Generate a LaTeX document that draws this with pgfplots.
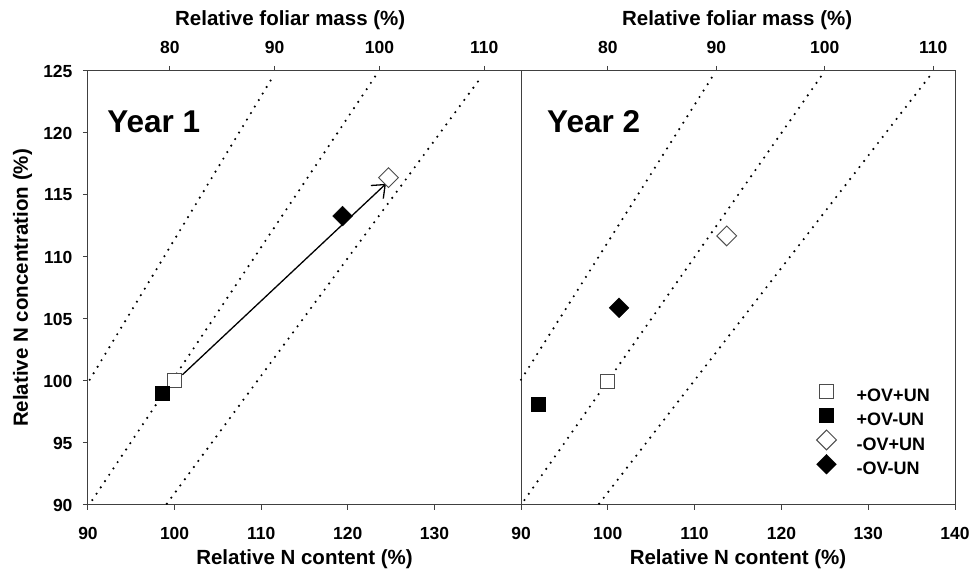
\documentclass[border=0pt]{standalone}
\usepackage{pgfplots}
\pgfplotsset{compat=1.18}
\usetikzlibrary{arrows.meta}
\usepackage{fontspec}
\setmainfont{Liberation Sans}

\newcommand{\tickfont}{\fontsize{17.5}{19}\selectfont\bfseries}

\pgfplotsset{
  panel/.style={
    scale only axis, height=434pt,
    xmin=90, xmax=140, ymin=90, ymax=125,
    axis line style={black!75, line width=1pt},
    tick style={black!75, line width=1pt},
    tick align=outside, major tick length=5pt,
    xtick pos=left, ytick pos=left,
    xticklabel={\tickfont\pgfmathprintnumber[assume math mode=true]{\tick}},
    yticklabel={\tickfont\pgfmathprintnumber[assume math mode=true]{\tick}},
    xticklabel style={yshift=-14pt},
    yticklabel style={xshift=-7pt},
    label style={font=\fontsize{20.5}{22}\selectfont\bfseries},
    xlabel style={at={(axis description cs:0.5,-0.125)}, anchor=center},
    clip=false,
  },
  toppanel/.style={
    scale only axis, height=434pt,
    ymin=0, ymax=1,
    axis x line*=top, axis y line=none,
    axis line style={black!75, line width=1pt},
    tick style={black!75, line width=1pt},
    tick align=outside, major tick length=5pt,
    xtick={80,90,100,110},
    xticklabel={\tickfont\pgfmathprintnumber[assume math mode=true]{\tick}},
    xticklabel style={yshift=9pt},
    label style={font=\fontsize{20.5}{22}\selectfont\bfseries},
    xlabel={Relative foliar mass (\%)},
  },
  iso/.style={black, line width=2.4pt, dash pattern=on 0pt off 7.6pt, line cap=round},
  openmk/.style={only marks, mark size=7pt, mark options={draw=black!70, fill=white, line width=1pt}},
  fillmk/.style={only marks, mark size=7pt, mark options={draw=black, fill=black}},
  sq/.style={mark=square*},
  dm/.style={mark=square*, every mark/.append style={rotate=45}},
}

\begin{document}
\begin{tikzpicture}
\path[use as bounding box] (0,0) rectangle (972pt,569pt);

% Year 1
\begin{axis}[panel, at={(88pt,64pt)}, width=433pt,
  xtick={90,100,110,120,130}, ytick={90,95,...,125},
  xlabel={Relative N content (\%)},
  ylabel={Relative N concentration (\%)},
  ylabel style={at={(axis description cs:-0.151,0.5)}, anchor=center},
]
\addplot[iso] coordinates {(90.2,100.1) (111.4,124.6)};
\addplot[iso] coordinates {(90.5,90.4) (123.2,124.6)};
\addplot[iso] coordinates {(99.1,90.1) (135.5,124.6)};
\addplot[black, line width=1.3pt, -{Straight Barb[length=11pt, width=18pt, line width=1.3pt]}]
  coordinates {(100.9,100.5) (124.4,115.9)};
\addplot[openmk, sq] coordinates {(100,100)};
\addplot[fillmk, sq] coordinates {(98.6,99.0)};
\addplot[openmk, dm] coordinates {(124.7,116.4)};
\addplot[fillmk, dm] coordinates {(119.4,113.3)};
\node[anchor=base west, inner sep=0pt, font=\fontsize{31.5}{34}\selectfont\bfseries]
  at (axis description cs:0.044,0.859) {Year 1};
\end{axis}
\begin{axis}[toppanel, at={(88pt,64pt)}, width=433pt, xmin=72.2, xmax=113.5,
  xlabel style={at={(axis description cs:0.467,1.1175)}, anchor=center}]
\end{axis}

% Year 2
\begin{axis}[panel, at={(521pt,64pt)}, width=434pt,
  xtick={90,100,110,120,130,140}, ytick=\empty,
  xlabel={Relative N content (\%)},
  legend style={at={(axis description cs:0.680,0.2765)}, anchor=north west,
    draw=none, fill=none, inner sep=0pt, row sep=0pt,
    font=\fontsize{18}{20}\selectfont\bfseries,
    nodes={inner sep=0pt, text height=16.3pt, text depth=8pt}},
  legend cell align=left,
  legend image code/.code={%
    \path (-10pt,6pt) (10pt,6pt);
    \draw[#1, overlay] plot coordinates {(0pt,6pt)};},
]
\addplot[iso, forget plot] coordinates {(90,100.1) (112.1,124.6)};
\addplot[iso, forget plot] coordinates {(90.4,90.4) (124.6,124.6)};
\addplot[iso, forget plot] coordinates {(99.0,90.1) (137.1,124.6)};
\addplot[openmk, sq] coordinates {(100,99.95)};
\addplot[fillmk, sq] coordinates {(92.0,98.1)};
\addplot[openmk, dm] coordinates {(113.7,111.7)};
\addplot[fillmk, dm] coordinates {(101.3,105.9)};
\legend{{\hspace*{20pt}+OV+UN},{\hspace*{20pt}+OV-UN},{\hspace*{20pt}-OV+UN},{\hspace*{20pt}-OV-UN}}
\node[anchor=base west, inner sep=0pt, font=\fontsize{31.5}{34}\selectfont\bfseries]
  at (axis description cs:0.06,0.859) {Year 2};
\end{axis}
\begin{axis}[toppanel, at={(521pt,64pt)}, width=434pt, xmin=72, xmax=112,
  xlabel style={at={(axis description cs:0.498,1.1175)}, anchor=center}]
\end{axis}
\end{tikzpicture}
\end{document}
